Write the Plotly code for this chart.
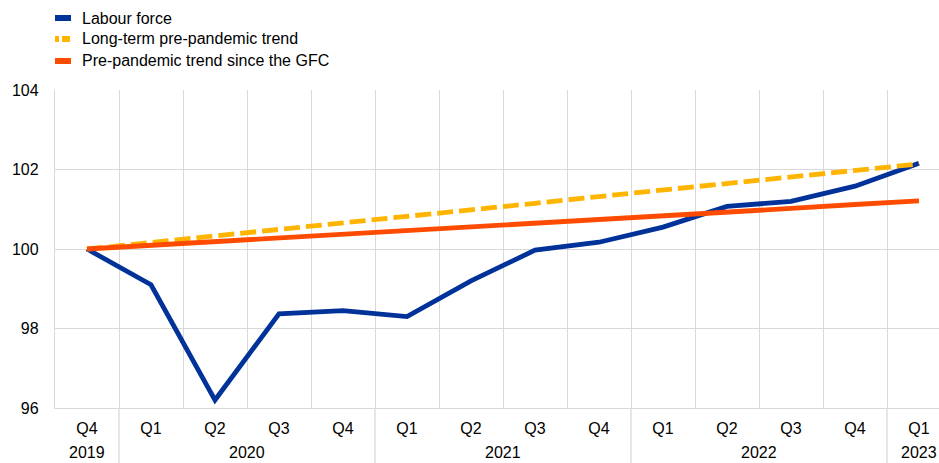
import plotly.graph_objects as go

quarters = ["Q4", "Q1", "Q2", "Q3", "Q4", "Q1", "Q2", "Q3", "Q4", "Q1", "Q2", "Q3", "Q4", "Q1"]
years = ["2019", "2020", "2021", "2022", "2023"]
year_span = [(0, 0), (1, 4), (5, 8), (9, 12), (13, 13)]

labour_force = [100.0, 99.1, 96.2, 98.37, 98.45, 98.3, 99.2, 99.97, 100.17, 100.55, 101.07, 101.2, 101.58, 102.16]
long_term_trend = [100.0, 100.16, 100.33, 100.49, 100.66, 100.82, 100.99, 101.15, 101.32, 101.48, 101.65, 101.81, 101.98, 102.14]
gfc_trend = [100.0, 100.09, 100.19, 100.28, 100.37, 100.47, 100.56, 100.65, 100.74, 100.84, 100.93, 101.02, 101.12, 101.21]

series_names = ["Labour force", "Long-term pre-pandemic trend", "Pre-pandemic trend since the GFC"]
BLUE, YELLOW, ORANGE = "#003299", "#FFB400", "#FF4B00"
GRID = "#d9d9d9"
FONT = "Liberation Sans, Arial, sans-serif"
FS = 16

x = list(range(len(quarters)))

fig = go.Figure()
fig.add_trace(go.Scatter(x=x, y=labour_force, mode="lines", name=series_names[0],
                         line=dict(color=BLUE, width=4.8), showlegend=False))
fig.add_trace(go.Scatter(x=x, y=long_term_trend, mode="lines", name=series_names[1],
                         line=dict(color=YELLOW, width=4.8, dash="16px,6px"), showlegend=False))
fig.add_trace(go.Scatter(x=x, y=gfc_trend, mode="lines", name=series_names[2],
                         line=dict(color=ORANGE, width=4.8), showlegend=False))

W, H = 939, 463
ml, mt, mb = 55, 90, 55
plot_w = W - ml
plot_h = H - mt - mb
cat_px = 64
x_range = [-0.5, -0.5 + plot_w / cat_px]


def py(pix):
    """pixel row -> paper y"""
    return 1 - (pix - mt) / plot_h


shapes = []
annotations = []
# year separators extending into the label area
for a, b in year_span[:-1]:
    shapes.append(dict(type="line", xref="x", yref="paper", x0=b + 0.5, x1=b + 0.5,
                       y0=py(H + 5), y1=0, line=dict(color=GRID, width=1.3), layer="below"))
# year labels
for yr, (a, b) in zip(years, year_span):
    annotations.append(dict(text=yr, x=(a + b) / 2, xref="x", y=py(452.5), yref="paper",
                            showarrow=False, yanchor="middle",
                            font=dict(family=FONT, size=FS, color="#000000")))

# manual legend
leg_rows = [18, 39, 61]
colors = [BLUE, YELLOW, ORANGE]
for i, (name, c, yy) in enumerate(zip(series_names, colors, leg_rows)):
    if i == 1:
        for (x0, x1) in [(55, 59), (62, 70)]:
            shapes.append(dict(type="rect", xref="paper", yref="paper",
                               x0=(x0 - ml) / plot_w, x1=(x1 - ml) / plot_w,
                               y0=py(yy + 3), y1=py(yy - 3),
                               fillcolor=c, line=dict(width=0)))
    else:
        shapes.append(dict(type="rect", xref="paper", yref="paper",
                           x0=0, x1=(71 - ml) / plot_w, y0=py(yy + 3), y1=py(yy - 3),
                           fillcolor=c, line=dict(width=0)))
    annotations.append(dict(text=name, xref="paper", yref="paper", x=(80 - ml) / plot_w,
                            y=py(yy), xanchor="left", yanchor="middle",
                            showarrow=False, font=dict(family=FONT, size=FS, color="#000000")))

fig.update_layout(
    width=W, height=H,
    margin=dict(l=ml, r=0, t=mt, b=mb, pad=0),
    plot_bgcolor="white", paper_bgcolor="white",
    font=dict(family=FONT, size=FS, color="#000000"),
    shapes=shapes, annotations=annotations,
    xaxis=dict(range=x_range, tickmode="array", tickvals=x, ticktext=quarters,
               showgrid=False, zeroline=False, showline=True, linecolor=GRID, linewidth=1.3,
               ticks="", ticklabelstandoff=6,
               minor=dict(tickmode="array", tickvals=[i + 0.5 for i in range(13)],
                          showgrid=True, gridcolor=GRID, gridwidth=1.3, ticks=""),
               fixedrange=True),
    yaxis=dict(range=[96, 104], tickvals=[96, 98, 100, 102, 104],
               showgrid=True, gridcolor=GRID, gridwidth=1.3, zeroline=False,
               showline=True, linecolor=GRID, linewidth=1.3, ticks="", ticklabelstandoff=12,
               fixedrange=True),
)

fig.write_html("out.html", config={"displayModeBar": False})

with open("out.html", "r", encoding="utf-8") as f:
    html = f.read()
html = html.replace("<head>", "<head><style>html,body{margin:0;padding:0;overflow:hidden;}</style>", 1)
with open("out.html", "w", encoding="utf-8") as f:
    f.write(html)
